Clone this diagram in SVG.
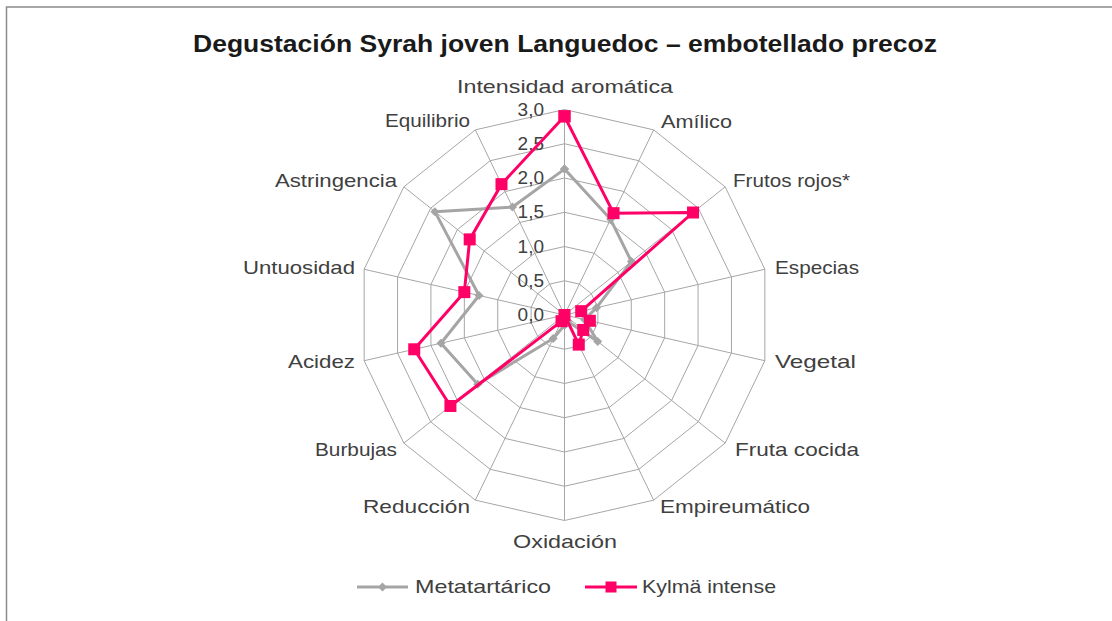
<svg xmlns="http://www.w3.org/2000/svg" xmlns:xlink="http://www.w3.org/1999/xlink" width="1112" height="621" viewBox="0 0 1112 621">
<style>
.lbl{font-family:"Liberation Sans",Arial,sans-serif;font-size:19px;fill:#404040}
.tick{font-family:"Liberation Sans",Arial,sans-serif;font-size:19px;fill:#404040;text-anchor:end}
.title{font-family:"Liberation Sans",Arial,sans-serif;font-size:23px;font-weight:bold;fill:#1a1a1a}
.ring{fill:none;stroke:#a6a6a6;stroke-width:1}
.spoke{stroke:#a6a6a6;stroke-width:1}
.sgrey{fill:none;stroke:#a5a5a5;stroke-width:3;stroke-linejoin:round}
.spink{fill:none;stroke:#ff0066;stroke-width:3;stroke-linejoin:round}
</style>
<defs>
<marker id="mDiamond" markerUnits="userSpaceOnUse" markerWidth="12" markerHeight="12" refX="6" refY="6" overflow="visible">
<path d="M6,1.5 L10.5,6 L6,10.5 L1.5,6 Z" fill="#a5a5a5"/>
</marker>
<marker id="mSquare" markerUnits="userSpaceOnUse" markerWidth="12" markerHeight="12" refX="6" refY="6" overflow="visible">
<rect x="0" y="0" width="12" height="12" fill="#ff0066"/>
</marker>
</defs>
<rect x="0" y="0" width="1112" height="621" fill="#ffffff"/>
<rect x="6.5" y="7" width="1112" height="620" fill="none" stroke="#8c8c8c" stroke-width="1.5"/>
<text class="title" x="193" y="52" textLength="744" lengthAdjust="spacingAndGlyphs">Degustación Syrah joven Languedoc – embotellado precoz</text>

<g id="grid" transform="translate(564.5,315)">
<polygon class="ring" points="0,-34.25 14.86,-30.86 26.78,-21.35 33.39,-7.62 33.39,7.62 26.78,21.35 14.86,30.86 0,34.25 -14.86,30.86 -26.78,21.35 -33.39,7.62 -33.39,-7.62 -26.78,-21.35 -14.86,-30.86"/>
<polygon class="ring" points="0,-68.5 29.72,-61.72 53.56,-42.71 66.78,-15.24 66.78,15.24 53.56,42.71 29.72,61.72 0,68.5 -29.72,61.72 -53.56,42.71 -66.78,15.24 -66.78,-15.24 -53.56,-42.71 -29.72,-61.72"/>
<polygon class="ring" points="0,-102.75 44.58,-92.57 80.33,-64.06 100.17,-22.86 100.17,22.86 80.33,64.06 44.58,92.57 0,102.75 -44.58,92.57 -80.33,64.06 -100.17,22.86 -100.17,-22.86 -80.33,-64.06 -44.58,-92.57"/>
<polygon class="ring" points="0,-137 59.44,-123.43 107.11,-85.42 133.57,-30.49 133.57,30.49 107.11,85.42 59.44,123.43 0,137 -59.44,123.43 -107.11,85.42 -133.57,30.49 -133.57,-30.49 -107.11,-85.42 -59.44,-123.43"/>
<polygon class="ring" points="0,-171.25 74.3,-154.29 133.89,-106.77 166.96,-38.11 166.96,38.11 133.89,106.77 74.3,154.29 0,171.25 -74.3,154.29 -133.89,106.77 -166.96,38.11 -166.96,-38.11 -133.89,-106.77 -74.3,-154.29"/>
<polygon class="ring" points="0,-205.5 89.16,-185.15 160.67,-128.13 200.35,-45.73 200.35,45.73 160.67,128.13 89.16,185.15 0,205.5 -89.16,185.15 -160.67,128.13 -200.35,45.73 -200.35,-45.73 -160.67,-128.13 -89.16,-185.15"/>
<path class="spoke" d="M0,0 L0,-205.5 M0,0 L89.16,-185.15 M0,0 L160.67,-128.13 M0,0 L200.35,-45.73 M0,0 L200.35,45.73 M0,0 L160.67,128.13 M0,0 L89.16,185.15 M0,0 L0,205.5 M0,0 L-89.16,185.15 M0,0 L-160.67,128.13 M0,0 L-200.35,45.73 M0,0 L-200.35,-45.73 M0,0 L-160.67,-128.13 M0,0 L-89.16,-185.15"/>
</g>

<g id="ticks">
<text class="tick" x="544" y="115.5">3,0</text>
<text class="tick" x="544" y="149.75">2,5</text>
<text class="tick" x="544" y="184">2,0</text>
<text class="tick" x="544" y="218.25">1,5</text>
<text class="tick" x="544" y="252.5">1,0</text>
<text class="tick" x="544" y="286.75">0,5</text>
<text class="tick" x="544" y="321">0,0</text>
</g>

<g id="series">
<polygon id="s-metatartarico" class="sgrey" transform="translate(564.5,315)" marker-start="url(#mDiamond)" marker-mid="url(#mDiamond)" marker-end="url(#mDiamond)" points="0,-145.9 46.07,-95.66 66.95,-53.39 32.06,-7.32 20.03,4.57 33.2,26.48 2.97,6.17 0,10.28 -11.29,23.45 -86.76,69.19 -123.55,28.2 -85.48,-19.51 -129.6,-103.36 -52.01,-108.01"/>
<polygon id="s-kylma" class="spink" transform="translate(564.5,315)" marker-start="url(#mSquare)" marker-mid="url(#mSquare)" marker-end="url(#mSquare)" points="0,-198.65 49.04,-101.84 128.53,-102.5 16.7,-3.81 25.38,5.79 18.75,14.95 14.27,29.62 0,0 -2.97,6.17 -114.07,90.97 -150.27,34.3 -100.17,-22.86 -94.8,-75.6 -63.01,-130.84"/>
</g>

<g id="axis-labels">
<text class="lbl" x="457" y="93" textLength="216" lengthAdjust="spacingAndGlyphs">Intensidad aromática</text>
<text class="lbl" x="661" y="128" textLength="71" lengthAdjust="spacingAndGlyphs">Amílico</text>
<text class="lbl" x="733" y="187" textLength="117" lengthAdjust="spacingAndGlyphs">Frutos rojos*</text>
<text class="lbl" x="775" y="274" textLength="84" lengthAdjust="spacingAndGlyphs">Especias</text>
<text class="lbl" x="775" y="368" textLength="81" lengthAdjust="spacingAndGlyphs">Vegetal</text>
<text class="lbl" x="735" y="456" textLength="124" lengthAdjust="spacingAndGlyphs">Fruta cocida</text>
<text class="lbl" x="660" y="513" textLength="150" lengthAdjust="spacingAndGlyphs">Empireumático</text>
<text class="lbl" x="513" y="548" textLength="104" lengthAdjust="spacingAndGlyphs">Oxidación</text>
<text class="lbl" x="363" y="513" textLength="107" lengthAdjust="spacingAndGlyphs">Reducción</text>
<text class="lbl" x="315" y="456" textLength="82" lengthAdjust="spacingAndGlyphs">Burbujas</text>
<text class="lbl" x="288" y="368" textLength="67" lengthAdjust="spacingAndGlyphs">Acidez</text>
<text class="lbl" x="243" y="274" textLength="112" lengthAdjust="spacingAndGlyphs">Untuosidad</text>
<text class="lbl" x="275" y="187" textLength="122" lengthAdjust="spacingAndGlyphs">Astringencia</text>
<text class="lbl" x="385" y="127" textLength="85" lengthAdjust="spacingAndGlyphs">Equilibrio</text>
</g>

<g id="legend">
<line x1="357" y1="587" x2="408" y2="587" stroke="#a5a5a5" stroke-width="3"/>
<path d="M382.5,582.5 L387,587 L382.5,591.5 L378,587 Z" fill="#a5a5a5"/>
<text class="lbl" x="415" y="593" textLength="136" lengthAdjust="spacingAndGlyphs">Metatartárico</text>
<line x1="585" y1="587" x2="637" y2="587" stroke="#ff0066" stroke-width="3"/>
<rect x="605.5" y="581.5" width="11" height="11" fill="#ff0066"/>
<text class="lbl" x="642" y="593" textLength="134" lengthAdjust="spacingAndGlyphs">Kylmä intense</text>
</g>
</svg>
